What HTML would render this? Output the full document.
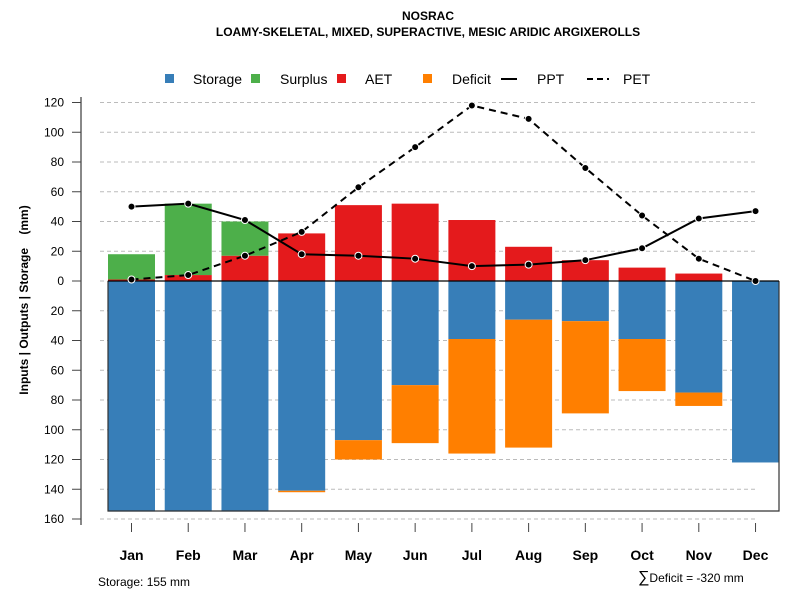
<!DOCTYPE html>
<html><head><meta charset="utf-8"><style>
body{margin:0;background:#fff}
svg{font-family:"Liberation Sans",sans-serif}
</style></head><body>
<svg id="c" width="800" height="600" xmlns="http://www.w3.org/2000/svg">
<text x="428" y="20" text-anchor="middle" font-size="12" font-weight="bold">NOSRAC</text>
<text x="428" y="36" text-anchor="middle" font-size="12" font-weight="bold">LOAMY-SKELETAL, MIXED, SUPERACTIVE, MESIC ARIDIC ARGIXEROLLS</text>
<g font-size="14">
<rect x="165" y="74" width="9" height="9" fill="#377eb8"/>
<text x="193" y="84">Storage</text>
<rect x="251" y="74" width="9" height="9" fill="#4daf4a"/>
<text x="280" y="84">Surplus</text>
<rect x="337" y="74" width="9" height="9" fill="#e41a1c"/>
<text x="365" y="84">AET</text>
<rect x="423" y="74" width="9" height="9" fill="#ff7f00"/>
<text x="452" y="84">Deficit</text>
<line x1="501" y1="79" x2="517" y2="79" stroke="#000" stroke-width="2"/>
<text x="537" y="84">PPT</text>
<line x1="587" y1="79" x2="609" y2="79" stroke="#000" stroke-width="2" stroke-dasharray="6,4"/>
<text x="623" y="84">PET</text>
</g>
<text transform="translate(28,300) rotate(-90)" text-anchor="middle" font-size="12" font-weight="bold" style="white-space:pre">Inputs | Outputs | Storage    (mm)</text>
<line x1="81" y1="97" x2="81" y2="525" stroke="#888" stroke-width="2"/>
<g id="grid"></g><g id="bars"></g><g id="lines"></g><g id="axes"></g>
<text x="98" y="586" font-size="12">Storage: 155 mm</text>
<text x="638" y="582" font-size="12"><tspan font-size="16">∑</tspan>Deficit = -320 mm</text>
</svg>
<script>
const months=["Jan","Feb","Mar","Apr","May","Jun","Jul","Aug","Sep","Oct","Nov","Dec"];
const storage=[155,155,155,141,107,70,39,26,27,39,75,122];
const deficit=[0,0,0,1,13,39,77,86,62,35,9,0];
const aet=[1,4,17,32,51,52,41,23,14,9,5,0];
const surplus=[17,48,23,0,0,0,0,0,0,0,0,0];
const ppt=[50,52,41,18,17,15,10,11,14,22,42,47];
const pet=[1,4,17,33,63,90,118,109,76,44,15,0];
const tickVals=[120,100,80,60,40,20,0,-20,-40,-60,-80,-100,-120,-140,-160];
const NS="http://www.w3.org/2000/svg";
const y=v=>281-v*1.4875;
const x=i=>131.5+i*56.73;
const bw=47;
function mk(tag,attrs,parent){const e=document.createElementNS(NS,tag);for(const k in attrs)e.setAttribute(k,attrs[k]);document.getElementById(parent).appendChild(e);return e;}
tickVals.forEach(v=>{
 const g=mk('line',{x1:100,x2:756,y1:y(v),y2:y(v),stroke:'#bbb','stroke-dasharray':'4,3'},'grid');
 
 
 const t=mk('line',{x1:72,x2:81,y1:y(v),y2:y(v),stroke:'#444'},'axes');
 
 
 const l=mk('text',{x:64,y:y(v)+4,'text-anchor':'end','font-size':12},'axes');
 l.textContent=Math.abs(v);
 
 
});
months.forEach((m,i)=>{
 const cx=x(i);
 function bar(top,bot,col,name){if(bot===top)return;const r=mk('rect',{x:cx-bw/2,y:Math.min(y(top),y(bot)),width:bw,height:Math.abs(y(top)-y(bot)),fill:col},'bars');
  
  }
 bar(0,-storage[i],'#377eb8','storage-bar-'+m.toLowerCase());
 bar(-storage[i],-storage[i]-deficit[i],'#ff7f00','deficit-bar-'+m.toLowerCase());
 bar(0,aet[i],'#e41a1c','aet-bar-'+m.toLowerCase());
 bar(aet[i],aet[i]+surplus[i],'#4daf4a','surplus-bar-'+m.toLowerCase());
 const t=mk('line',{x1:cx,x2:cx,y1:523,y2:532,stroke:'#444'},'axes');
 
 
 const l=mk('text',{x:cx,y:560,'text-anchor':'middle','font-size':14,'font-weight':'bold'},'axes');
 l.textContent=m;
 
 
});
const f=mk('path',{d:'M108,281 V511 H779 V281',fill:'none',stroke:'#333','stroke-width':1.2},'bars');


const z=mk('line',{x1:108,x2:779,y1:281,y2:281,stroke:'#000','stroke-width':1.2},'bars');


function series(vals,dash,name){
 const p=mk('polyline',{points:vals.map((v,i)=>x(i)+','+y(v)).join(' '),fill:'none',stroke:'#000','stroke-width':2,'stroke-dasharray':dash},'lines');
 
 
 vals.forEach((v,i)=>{const c=mk('circle',{cx:x(i),cy:y(v),r:3.5,fill:'#000',stroke:'#fff','stroke-width':1},'lines');
  
  });
}
series(ppt,'none','ppt');
series(pet,'7,5','pet');
</script>
</body></html>
